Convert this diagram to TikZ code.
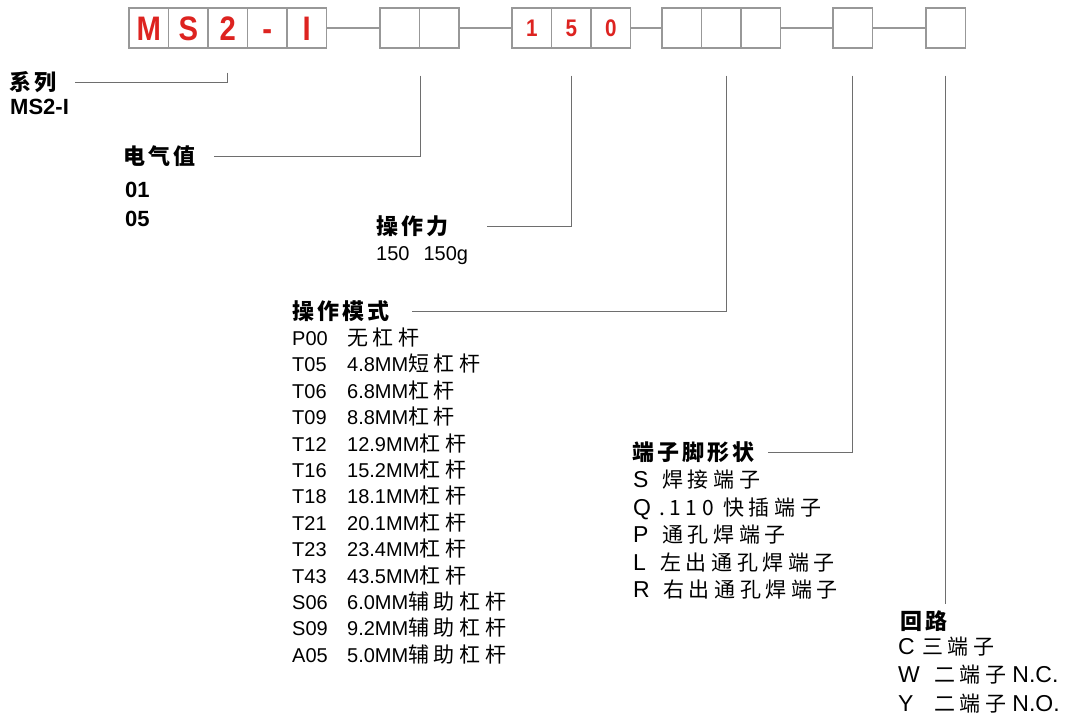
\documentclass[tikz,border=0pt]{standalone}
\usepackage{fontspec}
\usepackage{tikz}
\usetikzlibrary{positioning}
\setmainfont{Liberation Sans}
\newfontfamily\cjk[LetterSpace=22]{Noto Sans CJK SC}
\newfontfamily\cjkhead[LetterSpace=14]{Noto Sans CJK SC}
\newfontfamily\narrowfont[FakeStretch=0.86]{Liberation Sans}
\definecolor{codered}{RGB}{221,35,32}
\definecolor{cellgray}{RGB}{152,152,152}
\definecolor{leadgray}{RGB}{110,110,110}
\newcommand{\headfont}{\cjkhead\bfseries\fontsize{22}{22}\selectfont}
\newcommand{\itemfont}{\fontsize{20}{20}\selectfont}
\newcommand{\descfont}{\cjk\fontsize{21}{21}\selectfont}
\tikzset{
  codecell/.style={draw=cellgray, line width=1.4pt, minimum width=39.5pt,
    minimum height=40pt, inner sep=0pt, text=codered, text height=24pt, text depth=0pt,
    font=\narrowfont\bfseries\fontsize{34}{34}\selectfont},
  digitcell/.style={codecell, text height=17pt, font=\narrowfont\bfseries\fontsize{24}{24}\selectfont},
  joinline/.style={draw=cellgray, line width=1.2pt},
  leader/.style={draw=leadgray, line width=0.9pt},
  headline/.style={anchor=west, inner sep=0pt, font=\headfont},
  boldopt/.style={anchor=west, inner sep=0pt, font=\bfseries\fontsize{22}{22}\selectfont},
  optline/.style={anchor=west, inner sep=0pt, text height=15pt, text depth=4pt, font=\itemfont},
  wideopt/.style={optline, font=\fontsize{23}{23}\selectfont},
}

\begin{document}
\begin{tikzpicture}[x=1pt,y=-1pt]
\useasboundingbox (0,0) rectangle (1076,716);
% code cells
\foreach \ch [count=\i] in {M,S,2,-,I}
  \node[codecell] (ms-\i) at (109.25+39.5*\i,28) {\ch};
\foreach \i in {1,2}
  \node[codecell] (ev-\i) at (360.25+39.5*\i,28) {};
\foreach \ch [count=\i] in {1,5,0}
  \node[digitcell] (of-\i) at (492.25+39.5*\i,28) {\ch};
\foreach \i in {1,2,3}
  \node[codecell] (om-\i) at (642.25+39.5*\i,28) {};
\node[codecell] (tp-1) at (852.75,28) {};
\node[codecell] (cc-1) at (945.75,28) {};
\draw[joinline] (ms-5) -- (ev-1);
\draw[joinline] (ev-2) -- (of-1);
\draw[joinline] (of-3) -- (om-1);
\draw[joinline] (om-3) -- (tp-1);
\draw[joinline] (tp-1) -- (cc-1);
% taps below the cells
\coordinate (ms-tap) at ([yshift=-24pt]ms-3.south);
\coordinate (ev-tap) at ([yshift=-27pt]ev-1.south east);
\coordinate (of-tap) at ([yshift=-27pt]of-2.south);
\coordinate (om-tap) at ([xshift=5pt,yshift=-27pt]om-2.south);
\coordinate (tp-tap) at ([yshift=-27pt]tp-1.south);
\coordinate (cc-tap) at ([yshift=-27pt]cc-1.south);
% series
\node[headline] (series) at (9,82) {系列};
\node[boldopt] (series-1) at (10,107) {MS2-I};
\draw[leader] (ms-tap) |- ([xshift=19pt]series.east);
% electric value
\node[headline] (elecval) at (123,156) {电气值};
\foreach \v [count=\i] in {01,05}
  \node[boldopt] (elecval-\i) at (125,161+29*\i) {\v};
\draw[leader] (ev-tap) |- ([xshift=18pt]elecval.east);
% force
\node[headline] (force) at (376,226) {操作力};
\node[optline] (force-1) at (376,255) {150\hspace{14pt}150g};
\draw[leader] (of-tap) |- ([xshift=38pt]force.east);
% operating mode
\node[headline] (opmode) at (292,311) {操作模式};
\foreach \code/\len/\desc [count=\i] in {P00//无杠杆, T05/4.8MM/短杠杆,
    T06/6.8MM/杠杆, T09/8.8MM/杠杆, T12/12.9MM/杠杆, T16/15.2MM/杠杆,
    T18/18.1MM/杠杆, T21/20.1MM/杠杆, T23/23.4MM/杠杆, T43/43.5MM/杠杆,
    S06/6.0MM/辅助杠杆, S09/9.2MM/辅助杠杆, A05/5.0MM/辅助杠杆}
  \node[optline] (opmode-\i) at (292,313.6+26.4*\i) {\makebox[55pt][l]{\code}\len{\descfont\desc}};
\draw[leader] (om-tap) |- ([xshift=22pt]opmode.east);
% terminal shape
\node[headline] (terminal) at (632,452) {端子脚形状};
\foreach \key/\kw/\desc [count=\i] in {S/29/焊接端子, Q/26/.110 快插端子,
    P/29/通孔焊端子, L/27/左出通孔焊端子, R/30/右出通孔焊端子}
  \node[wideopt] (terminal-\i) at (633,454.5+27.5*\i) {\makebox[\kw pt][l]{\key}{\descfont\desc}};
\draw[leader] (tp-tap) |- ([xshift=13pt]terminal.east);
% circuit
\node[headline] (circuit) at (900,621) {回路};
\foreach \key/\kw/\desc/\tail [count=\i] in {C/24/三端子/, W/36/二端子/N.C., Y/36/二端子/N.O.}
  \node[wideopt] (circuit-\i) at (898,620+28.5*\i) {\makebox[\kw pt][l]{\key}{\descfont\desc}\hspace{6pt}\tail};
\draw[leader, shorten >=6pt] (cc-tap) -- (cc-tap |- circuit.north);
\end{tikzpicture}
\end{document}
